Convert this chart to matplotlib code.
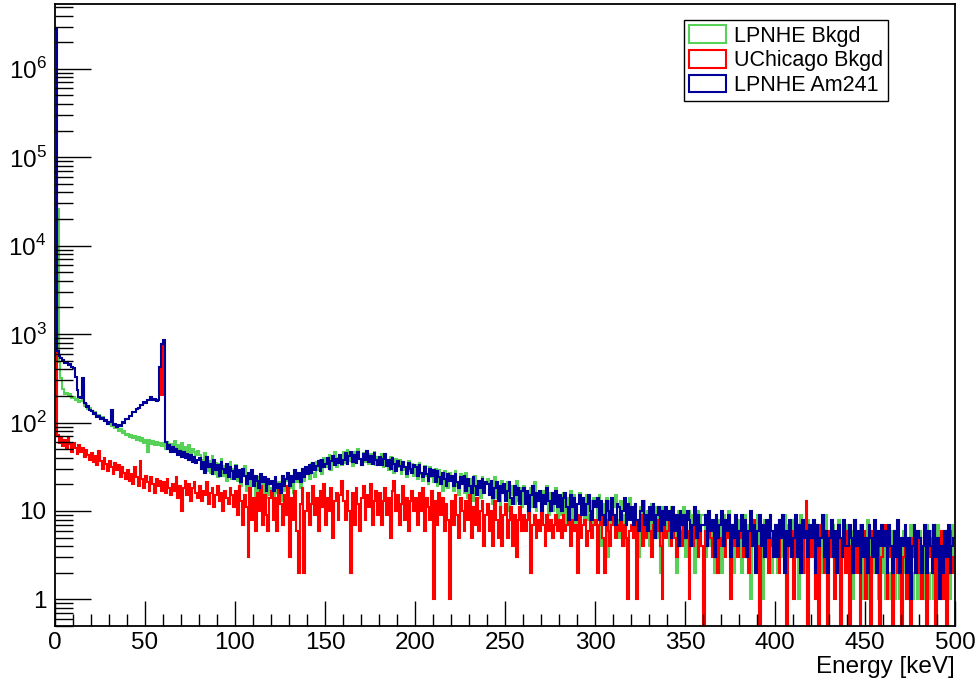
import numpy as np
import matplotlib
matplotlib.use("Agg")
import matplotlib.pyplot as plt
from matplotlib.patches import Patch
from matplotlib.ticker import FixedLocator, LogLocator, MultipleLocator, NullFormatter

plt.rcParams['font.family'] = ['Liberation Sans', 'DejaVu Sans']
plt.rcParams['mathtext.fontset'] = 'custom'
plt.rcParams['mathtext.rm'] = 'Liberation Sans'

# 1 keV bins from 0 to 500 keV, counts (20 bins per row)
bin_edges = np.arange(0, 501, 1)

lpnhe_bkgd = [
    600, 26000, 480, 320, 240, 212, 218, 198, 210, 190, 196, 182, 186, 170, 175, 250, 155, 160, 142, 145,
    136, 125, 130, 118, 121, 110, 114, 103, 108, 98, 101, 92, 95, 86, 90, 81, 84, 77, 80, 72,
    75, 68, 73, 66, 70, 63, 69, 61, 66, 59, 64, 47, 63, 57, 62, 55, 60, 56, 59, 54,
    58, 50, 60, 52, 57, 49, 62, 51, 55, 47, 58, 48, 53, 45, 55, 44, 50, 46, 43, 48,
    43, 30, 38, 45, 28, 37, 27, 42, 26, 35, 24, 34, 39, 25, 32, 22, 31, 36, 23, 30,
    33, 22, 29, 19, 27, 32, 17, 26, 15, 25, 20, 14, 24, 17, 13, 23, 16, 14, 22, 15,
    18, 14, 23, 16, 21, 13, 24, 17, 22, 27, 18, 25, 16, 28, 21, 26, 18, 30, 22, 27,
    30, 23, 34, 27, 24, 36, 29, 38, 26, 40, 31, 35, 43, 29, 37, 46, 31, 40, 42, 33,
    46, 35, 49, 37, 43, 32, 47, 36, 50, 39, 33, 45, 36, 48, 34, 44, 37, 47, 33, 41,
    36, 44, 31, 42, 35, 29, 41, 33, 27, 39, 31, 38, 26, 36, 29, 24, 37, 28, 34, 25,
    33, 23, 35, 26, 22, 32, 25, 20, 31, 24, 21, 30, 19, 29, 23, 17, 28, 21, 18, 27,
    24, 17, 28, 19, 15, 26, 21, 16, 27, 14, 23, 18, 13, 25, 17, 22, 14, 24, 16, 21,
    23, 15, 20, 12, 24, 14, 19, 11, 22, 16, 13, 21, 10, 19, 15, 12, 22, 13, 18, 11,
    19, 12, 17, 9, 18, 11, 21, 10, 16, 13, 8, 17, 12, 19, 9, 16, 10, 15, 18, 8,
    15, 9, 16, 7, 14, 11, 17, 8, 15, 6, 12, 16, 9, 14, 7, 15, 8, 13, 5, 14,
    13, 8, 15, 4, 12, 9, 14, 3, 13, 7, 11, 15, 8, 5, 13, 9, 4, 12, 8, 14,
    11, 5, 12, 7, 3, 11, 8, 13, 6, 10, 4, 12, 7, 11, 5, 10, 2, 11, 7, 6,
    10, 4, 11, 6, 9, 2, 10, 5, 9, 11, 3, 8, 10, 5, 9, 2, 8, 10, 4, 9,
    9, 3, 8, 10, 4, 7, 2, 9, 5, 8, 2, 9, 4, 8, 10, 3, 7, 2, 8, 4,
    8, 2, 7, 9, 3, 7, 1, 8, 4, 2, 9, 4, 7, 1, 8, 3, 6, 9, 2, 5,
    7, 2, 8, 3, 5, 9, 1, 7, 3, 8, 2, 6, 7, 1, 9, 3, 5, 2, 8, 3,
    6, 8, 1, 7, 3, 2, 7, 4, 9, 1, 5, 3, 7, 2, 6, 8, 1, 4, 7, 2,
    7, 2, 6, 1, 8, 3, 2, 7, 1, 5, 3, 8, 1, 6, 2, 7, 4, 1, 6, 2,
    5, 1, 7, 2, 1, 6, 1, 4, 7, 1, 1, 6, 2, 1, 5, 7, 1, 2, 6, 1,
    6, 1, 1, 5, 7, 1, 2, 6, 1, 1, 7, 4, 1, 2, 6, 1, 5, 1, 7, 2,
]

uchicago_bkgd = [
    66000, 72, 58, 68, 54, 63, 50, 66, 57, 47, 58, 51, 44, 56, 46, 52, 41, 49, 43, 38,
    45, 36, 42, 33, 48, 37, 30, 40, 34, 28, 37, 31, 26, 35, 29, 33, 24, 31, 27, 23,
    29, 22, 26, 20, 31, 24, 19, 37, 23, 18, 25, 21, 17, 24, 20, 16, 23, 19, 22, 17,
    21, 16, 23, 18, 15, 20, 17, 24, 14, 19, 10, 18, 22, 15, 20, 13, 18, 21, 16, 14,
    19, 13, 17, 15, 21, 12, 16, 18, 11, 15, 19, 13, 16, 10, 17, 14, 12, 18, 15, 11,
    17, 9, 19, 13, 7, 15, 11, 3, 18, 8, 14, 6, 16, 10, 19, 7, 15, 9, 6, 14,
    17, 8, 14, 6, 18, 12, 7, 15, 9, 19, 3, 14, 8, 17, 6, 2, 12, 18, 2, 10,
    16, 7, 12, 19, 9, 14, 6, 17, 11, 20, 7, 14, 10, 18, 5, 13, 16, 8, 15, 22,
    13, 8, 17, 10, 2, 16, 7, 18, 12, 6, 14, 19, 8, 15, 11, 20, 7, 13, 17, 9,
    16, 7, 13, 18, 9, 14, 5, 17, 22, 10, 15, 7, 12, 19, 8, 14, 6, 13, 17, 10,
    14, 7, 16, 10, 18, 6, 14, 11, 8, 17, 1, 13, 7, 16, 9, 14, 6, 12, 8, 1,
    13, 7, 15, 9, 5, 14, 10, 6, 13, 8, 15, 5, 11, 7, 14, 6, 10, 13, 4, 9,
    12, 6, 10, 4, 13, 8, 5, 11, 4, 9, 12, 5, 8, 11, 4, 9, 3, 8, 11, 6,
    9, 6, 8, 10, 2, 7, 9, 5, 8, 6, 10, 7, 4, 9, 6, 8, 5, 7, 9, 6,
    8, 5, 9, 6, 7, 10, 4, 8, 6, 7, 2, 9, 5, 7, 8, 4, 6, 9, 5, 7,
    8, 2, 7, 9, 5, 2, 8, 6, 4, 7, 9, 5, 7, 6, 8, 4, 7, 5, 1, 6,
    7, 5, 8, 1, 6, 9, 4, 7, 5, 8, 6, 3, 7, 5, 8, 6, 4, 1, 7, 5,
    6, 8, 4, 7, 5, 3, 8, 6, 4, 7, 5, 6, 1, 7, 4, 8, 5, 3, 6, 4,
    0, 6, 4, 7, 5, 3, 6, 8, 2, 5, 4, 7, 3, 6, 5, 1, 7, 4, 6, 3,
    5, 7, 3, 6, 4, 2, 6, 5, 8, 3, 4, 0, 6, 5, 3, 7, 2, 5, 4, 6,
    4, 6, 2, 5, 7, 3, 0, 5, 4, 6, 1, 5, 3, 7, 4, 2, 6, 13, 0, 5,
    3, 6, 1, 4, 0, 7, 5, 2, 4, 0, 6, 3, 5, 1, 4, 7, 0, 3, 5, 2,
    6, 0, 4, 3, 7, 2, 5, 0, 4, 6, 1, 5, 3, 0, 6, 4, 2, 5, 0, 3,
    4, 7, 1, 5, 3, 0, 6, 4, 2, 5, 0, 3, 6, 1, 4, 0, 5, 3, 6, 2,
    5, 1, 4, 6, 0, 3, 5, 2, 7, 0, 4, 3, 6, 1, 5, 0, 4, 6, 2, 3,
]

lpnhe_am241 = [
    2800000, 640, 560, 530, 505, 470, 485, 445, 460, 420, 415, 330, 235, 195, 188, 320, 168, 150, 152, 138,
    134, 124, 127, 116, 118, 109, 112, 103, 107, 97, 101, 138, 93, 96, 88, 94, 92, 101, 99, 109,
    110, 118, 120, 131, 130, 143, 145, 158, 157, 170, 166, 178, 180, 192, 181, 186, 174, 182, 420, 780,
    860, 60, 50, 55, 47, 53, 46, 50, 43, 48, 41, 46, 40, 44, 38, 43, 36, 41, 35, 38,
    40, 30, 36, 27, 41, 31, 34, 26, 38, 29, 33, 25, 36, 30, 27, 34, 24, 31, 28, 23,
    32, 24, 29, 21, 30, 25, 20, 27, 23, 29, 19, 25, 22, 18, 26, 21, 24, 17, 23, 20,
    22, 17, 24, 18, 20, 16, 25, 19, 23, 27, 19, 25, 21, 29, 23, 27, 21, 30, 24, 31,
    26, 33, 27, 35, 29, 32, 37, 28, 38, 31, 34, 40, 30, 37, 42, 33, 39, 35, 43, 34,
    38, 45, 34, 42, 47, 36, 43, 35, 46, 39, 33, 44, 38, 48, 36, 42, 34, 45, 38, 33,
    41, 33, 39, 44, 32, 38, 30, 40, 34, 28, 37, 32, 29, 36, 31, 26, 35, 30, 27, 33,
    31, 25, 33, 27, 24, 31, 26, 22, 30, 25, 29, 21, 28, 24, 20, 27, 23, 19, 26, 22,
    25, 19, 26, 21, 18, 24, 20, 25, 17, 23, 19, 16, 24, 19, 15, 22, 18, 23, 16, 21,
    20, 15, 22, 14, 18, 21, 13, 19, 16, 20, 13, 17, 21, 14, 12, 19, 15, 18, 12, 17,
    18, 12, 17, 10, 15, 19, 11, 16, 13, 17, 10, 15, 12, 18, 13, 10, 16, 12, 17, 11,
    15, 10, 14, 16, 11, 8, 15, 11, 14, 8, 12, 15, 9, 14, 9, 12, 15, 10, 8, 13,
    11, 14, 8, 13, 9, 7, 13, 10, 8, 14, 9, 7, 12, 11, 8, 10, 14, 7, 12, 8,
    11, 7, 12, 8, 6, 10, 13, 7, 9, 6, 11, 8, 12, 5, 9, 11, 6, 10, 7, 11,
    8, 10, 5, 11, 6, 9, 4, 10, 7, 9, 5, 10, 8, 4, 7, 11, 5, 9, 6, 7,
    7, 9, 4, 10, 6, 8, 3, 9, 5, 7, 10, 4, 8, 6, 9, 3, 7, 5, 9, 4,
    6, 9, 4, 8, 3, 6, 10, 4, 7, 2, 6, 9, 4, 7, 3, 8, 5, 9, 6, 3,
    7, 3, 8, 5, 9, 2, 6, 4, 8, 3, 5, 9, 3, 7, 2, 8, 5, 6, 3, 7,
    5, 8, 2, 7, 4, 5, 9, 3, 6, 2, 5, 8, 3, 6, 2, 7, 5, 3, 8, 4,
    4, 7, 5, 2, 8, 4, 6, 2, 7, 3, 5, 2, 7, 5, 3, 8, 2, 6, 4, 7,
    4, 6, 2, 7, 4, 2, 6, 3, 8, 2, 5, 4, 7, 2, 5, 1, 4, 7, 2, 6,
    5, 2, 4, 7, 2, 6, 4, 2, 7, 3, 5, 1, 4, 2, 6, 3, 7, 2, 4, 5,
]

# red area under the Am241 line at the 59.5 keV peak
peak_bins = [58, 59, 60]
peak_floor = 200

labels = ['LPNHE Bkgd', 'UChicago Bkgd', 'LPNHE Am241']
colors = ['#57d157', '#ff0000', '#000099']

for series in (lpnhe_bkgd, uchicago_bkgd, lpnhe_am241):
    assert len(series) == len(bin_edges) - 1, len(series)


def clip0(v):
    # empty bins drop below the frame, like ROOT does on a log axis
    v = np.asarray(v, dtype=float)
    return np.where(v > 0, v, 1e-2)


fig = plt.figure(figsize=(9.77, 6.83), dpi=100)
ax = fig.add_axes([55 / 977, 1 - 626 / 683, 900 / 977, 622 / 683])

lw = 1.5
ax.stairs(clip0(lpnhe_bkgd), bin_edges, color=colors[0], lw=lw, baseline=None)
ax.stairs(clip0(uchicago_bkgd), bin_edges, color=colors[1], lw=lw, baseline=None)

am = clip0(lpnhe_am241)
pk_x = bin_edges[peak_bins[0]:peak_bins[-1] + 2]
pk_y = list(am[peak_bins[0]:peak_bins[-1] + 1]) + [am[peak_bins[-1]]]
ax.fill_between(pk_x, peak_floor, pk_y, step='post', color=colors[1], lw=0)
ax.stairs(am, bin_edges, color=colors[2], lw=lw, baseline=None)

ax.set_yscale('log')
ax.set_xlim(0, 500)
ax.set_ylim(0.5, 5.4e6)

ax.xaxis.set_major_locator(MultipleLocator(50))
ax.xaxis.set_minor_locator(MultipleLocator(10))
ax.yaxis.set_major_locator(FixedLocator([1, 10, 1e2, 1e3, 1e4, 1e5, 1e6]))
ax.set_yticklabels(['1', '10', r'$10^{2}$', r'$10^{3}$', r'$10^{4}$', r'$10^{5}$', r'$10^{6}$'])
ax.yaxis.set_minor_locator(LogLocator(base=10, subs=np.arange(2, 10), numticks=20))
ax.yaxis.set_minor_formatter(NullFormatter())

ax.tick_params(axis='both', which='both', direction='in', top=False, right=False,
               labelsize=17.5, width=1.0, color='black')
ax.tick_params(axis='x', which='major', length=18, pad=4)
ax.tick_params(axis='x', which='minor', length=9)
ax.tick_params(axis='y', which='major', length=26, pad=6)
ax.tick_params(axis='y', which='minor', length=13)
for s in ax.spines.values():
    s.set_linewidth(1.3)

ax.set_xlabel('Energy [keV]', fontsize=17.5, loc='right', labelpad=2)

handles = [Patch(facecolor='none', edgecolor=c, lw=1.5) for c in colors]
leg = fig.legend(handles, labels, loc='upper left', bbox_to_anchor=(684 / 977, 1 - 20 / 683),
                 fontsize=15.5, frameon=True, fancybox=False, edgecolor='black', framealpha=1,
                 borderpad=0.25, borderaxespad=0, handlelength=1.7, handleheight=0.9,
                 handletextpad=0.35, labelspacing=0.15)
leg.get_frame().set_linewidth(1.0)

fig.savefig('out.png', dpi=100)
